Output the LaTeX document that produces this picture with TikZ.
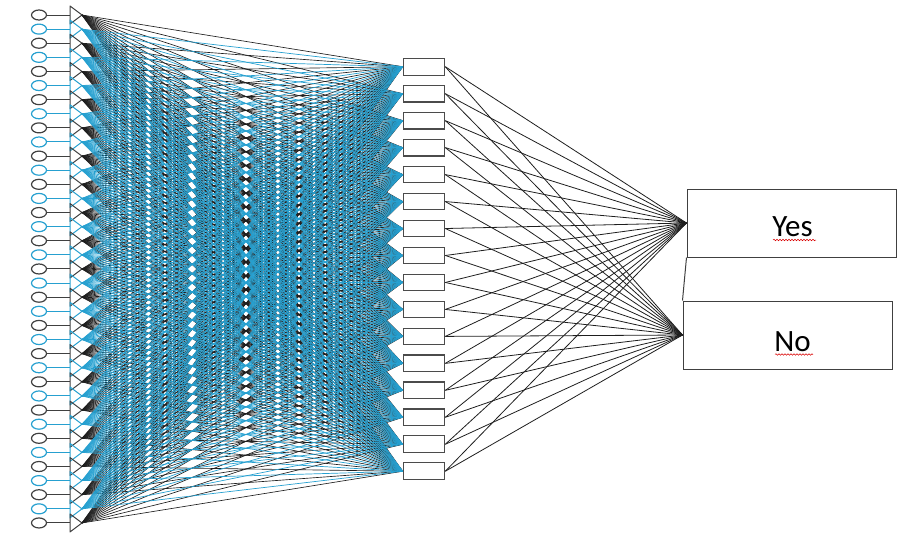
\documentclass[tikz,border=0pt]{standalone}
\usepackage{fontspec}
\setmainfont{Carlito}
\usetikzlibrary{shapes.geometric,decorations.pathmorphing}
\definecolor{nnblue}{RGB}{38,160,208}
\definecolor{nnblack}{RGB}{30,30,30}
\begin{document}
\begin{tikzpicture}[x=1pt,y=-1pt,
  inode/.style={ellipse, line width=1.2pt, minimum width=15pt, minimum height=10pt, inner sep=0pt},
  hbox/.style={rectangle, draw=nnblack!80, line width=1.1pt, minimum width=41.5pt, minimum height=16.7pt, inner sep=0pt, fill=white},
  obox/.style={rectangle, draw=nnblack!85, line width=1pt, minimum width=209pt, minimum height=68pt, inner sep=0pt},
  bwire/.style={line width=0.65pt, nnblack},
  cwire/.style={line width=0.7pt, nnblue},
  owire/.style={line width=0.8pt, nnblack},
  tri/.style={line width=1pt, line join=round},
  lbl/.style={font=\fontsize{31}{36}\selectfont, anchor=base, inner sep=0pt},
  squiggle/.style={draw=red!85!black, line width=0.5pt, decorate, decoration={snake, amplitude=0.8pt, segment length=3pt}}
]
\useasboundingbox (0,0) rectangle (906,538);
% hidden layer boxes
\foreach \j in {1,...,16} {
  \node[hbox] (h\j) at (424, {66.7+(\j-1)*26.97}) {};
}
% output boxes
\node[obox] (yes) at (791.5,223) {};
\node[obox] (no) at (787.5,335) {};
% inputs
\foreach \i in {1,...,37} {
  \ifodd\i \def\col{nnblack!85}\else\def\col{nnblue}\fi
  \pgfmathsetmacro\yy{15+(\i-1)*14.11}
  \node[inode, draw=\col] (c\i) at (39,\yy) {};
  \coordinate (b\i) at (70,\yy);
  \coordinate (a\i) at (82,\yy);
  \draw[tri, \col] (70,\yy-9) -- (70,\yy+9) -- (a\i) -- cycle;
  \draw[\col, line width=1pt] (c\i.east) -- (b\i);
}
% input -> hidden connections (black inputs first, blue inputs on top)
\foreach \i in {1,3,...,37} {
  \foreach \j in {1,...,16} {
    \draw[bwire] (a\i) -- (h\j.west);
  }
}
\foreach \i in {2,4,...,36} {
  \foreach \j in {1,...,16} {
    \draw[cwire] (a\i) -- (h\j.west);
  }
}
% hidden -> output connections
\foreach \j in {1,...,16} {
  \draw[owire] (h\j.east) -- (yes.west);
  \draw[owire] (h\j.east) -- (no.west);
}
\draw[nnblack!85, line width=1pt] (yes.south west) -- (no.north west);
% labels
\node[lbl] (yestext) at (792.5,236) {Yes};
\node[lbl] (notext) at (792.5,351.7) {No};
\draw[squiggle] (773,240) -- (816,240);
\draw[squiggle] (775,354.5) -- (813,354.5);
\end{tikzpicture}
\end{document}
